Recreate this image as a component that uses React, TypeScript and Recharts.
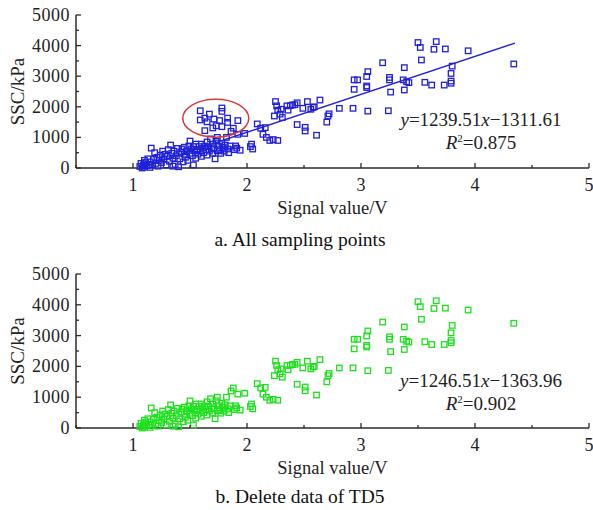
import { ScatterChart, Scatter, XAxis, YAxis, ReferenceLine } from "recharts";

const xTicks = [0.5, 1, 1.5, 2, 2.5, 3, 3.5, 4, 4.5, 5];
const yTicks = [0, 500, 1000, 1500, 2000, 2500, 3000, 3500, 4000, 4500, 5000];

// signal value (V), SSC (kPa)
const lowPoints: [number, number][] = [
  [1.06, 50], [1.07, 150], [1.08, 0], [1.09, 100], [1.1, 30], [1.1, 250], [1.11, 180], [1.12, 80],
  [1.13, 300], [1.14, 120], [1.15, 20], [1.15, 200], [1.16, 650], [1.17, 100], [1.18, 280], [1.19, 500],
  [1.2, 150], [1.21, 350], [1.22, 60], [1.23, 250], [1.24, 420], [1.25, 180], [1.26, 550], [1.27, 300],
  [1.28, 450], [1.29, 100], [1.3, 380], [1.31, 600], [1.32, 220], [1.33, 750], [1.34, 480], [1.35, 320],
  [1.35, 60], [1.36, 550], [1.37, 120], [1.38, 400], [1.39, 640], [1.4, 40], [1.41, 300], [1.42, 520],
  [1.43, 620], [1.44, 200], [1.45, 450], [1.45, 680], [1.46, 350], [1.47, 560], [1.48, 250], [1.49, 720],
  [1.5, 880], [1.5, 480], [1.51, 620], [1.52, 400], [1.53, 100], [1.53, 700], [1.54, 560], [1.55, 320],
  [1.55, 780], [1.56, 600], [1.57, 450], [1.58, 700], [1.59, 550], [1.6, 780], [1.6, 380], [1.61, 650],
  [1.62, 500], [1.63, 720], [1.64, 600], [1.65, 420], [1.65, 850], [1.66, 700], [1.67, 550], [1.68, 950],
  [1.69, 620], [1.7, 480], [1.7, 780], [1.71, 660], [1.72, 300], [1.73, 880], [1.74, 560], [1.74, 1000],
  [1.75, 720], [1.76, 600], [1.77, 480], [1.78, 800], [1.79, 680], [1.8, 550], [1.81, 750], [1.82, 1000],
  [1.83, 620], [1.84, 500], [1.85, 720], [1.86, 1200], [1.88, 1300], [1.89, 600], [1.9, 720], [1.91, 650],
  [1.92, 1100], [1.94, 580], [1.98, 1130],
];

const midPoints: [number, number][] = [
  [2.03, 700], [2.04, 780], [2.05, 620], [2.09, 1440], [2.12, 1300], [2.14, 1100], [2.16, 1320],
  [2.17, 1000], [2.2, 900], [2.23, 930], [2.27, 900], [2.25, 2170], [2.26, 2030], [2.27, 1890],
  [2.24, 1700], [2.29, 1760], [2.3, 1920], [2.31, 1650], [2.35, 2030], [2.36, 1890], [2.38, 2040],
  [2.42, 2070], [2.44, 1420], [2.4, 2060], [2.44, 2130], [2.49, 1950], [2.53, 2170], [2.56, 1920],
  [2.58, 1980], [2.59, 2000], [2.64, 2220], [2.51, 1330], [2.51, 1210], [2.61, 1070], [2.7, 1500],
  [2.72, 1770], [2.71, 1700], [2.81, 1950], [2.93, 1950], [3.06, 1860], [3.24, 1870],
];

const highPoints: [number, number][] = [
  [2.94, 2570], [2.97, 2880], [2.94, 2880], [3.05, 2990], [3.06, 3150], [3.05, 2680], [3.05, 2630],
  [3.19, 3440], [3.25, 2960], [3.25, 2880], [3.26, 2480], [3.37, 2880], [3.38, 2550], [3.38, 3280],
  [3.4, 2820], [3.42, 2790], [3.5, 4100], [3.52, 3940], [3.53, 3530], [3.56, 2800], [3.62, 2710],
  [3.64, 3880], [3.66, 4130], [3.74, 3890], [3.73, 2710], [3.79, 3090], [3.8, 3330], [3.79, 2840],
  [3.79, 2770], [3.94, 3830], [4.34, 3400],
];

// TD5 group (inside the red ellipse)
const td5Points: [number, number][] = [
  [1.59, 1570], [1.59, 1870], [1.63, 1630], [1.65, 1510], [1.67, 1760], [1.71, 1600], [1.76, 1550],
  [1.78, 1960], [1.78, 1850], [1.83, 1630], [1.83, 1490], [1.63, 1220], [1.7, 1310], [1.73, 1380],
  [1.78, 1350], [1.92, 1550],
];

const td5Center = [{ x: 1.726, y: 1627 }];

const fitRange = [1.06, 4.35];

const FONT = "'Liberation Serif', 'Times New Roman', serif";
const AXIS = "#2b2b2b";

const toRows = (pts: [number, number][]) => pts.map(([x, y]) => ({ x, y }));

function XTick({ x, y, payload }: any) {
  const major = Number.isInteger(payload.value);
  return (
    <g>
      <line x1={x} x2={x} y1={y} y2={y - (major ? 5 : 3)} stroke={AXIS} strokeWidth={1.3} />
      {major && (
        <text x={x} y={y + 23} textAnchor="middle" fontSize={18} fontFamily={FONT} fill="#222">
          {payload.value}
        </text>
      )}
    </g>
  );
}

function YTick({ x, y, payload }: any) {
  const major = payload.value % 1000 === 0;
  return (
    <g>
      <line x1={x} x2={x + (major ? 5 : 3)} y1={y} y2={y} stroke={AXIS} strokeWidth={1.3} />
      {major && (
        <text x={x - 6} y={y + 6} textAnchor="end" fontSize={18} fontFamily={FONT} fill="#222" letterSpacing={0.5}>
          {payload.value}
        </text>
      )}
    </g>
  );
}

const square = (color: string) => (props: any) => (
  <rect x={props.cx - 2.75} y={props.cy - 2.75} width={5.5} height={5.5} fill="none" stroke={color} strokeWidth={1.3} />
);

const ellipse = (props: any) => (
  <ellipse cx={props.cx} cy={props.cy} rx={33} ry={19} fill="none" stroke="#d63a3a" strokeWidth={1.5} />
);

interface PanelProps {
  points: { x: number; y: number }[];
  color: string;
  slope: number;
  intercept: number;
  marginTop: number;
  circle?: boolean;
}

function Panel({ points, color, slope, intercept, marginTop, circle }: PanelProps) {
  const segment = fitRange.map((x) => ({ x, y: slope * x + intercept }));
  return (
    <ScatterChart width={593} height={230} margin={{ top: marginTop, right: 4, bottom: 7, left: 0 }}>
      <XAxis
        type="number"
        dataKey="x"
        domain={[0.5, 5]}
        ticks={xTicks}
        interval={0}
        height={55}
        tickSize={0}
        tickMargin={0}
        tickLine={false}
        tick={<XTick />}
        axisLine={{ stroke: AXIS, strokeWidth: 1.5 }}
        label={{
          value: "Signal value/V",
          position: "insideBottom",
          offset: 9,
          style: { fontFamily: FONT, fontSize: 18.5, fill: "#222" },
        }}
      />
      <YAxis
        type="number"
        dataKey="y"
        domain={[0, 5000]}
        ticks={yTicks}
        interval={0}
        width={76}
        tickSize={0}
        tickMargin={0}
        tickLine={false}
        tick={<YTick />}
        axisLine={{ stroke: AXIS, strokeWidth: 1.5 }}
        label={{
          value: "SSC/kPa",
          angle: -90,
          position: "insideLeft",
          offset: 17,
          textAnchor: "middle",
          style: { fontFamily: FONT, fontSize: 19, fill: "#222", textAnchor: "middle" },
        }}
      />
      <Scatter data={points} shape={square(color)} isAnimationActive={false} />
      <ReferenceLine segment={segment} stroke={color} strokeWidth={1.5} />
      {circle && <Scatter data={td5Center} shape={ellipse} isAnimationActive={false} />}
    </ScatterChart>
  );
}

const eqStyle: React.CSSProperties = {
  position: "absolute",
  left: 381,
  width: 200,
  textAlign: "center",
  fontFamily: FONT,
  fontSize: 19,
  lineHeight: "23px",
  color: "#222",
};

const captionStyle: React.CSSProperties = {
  position: "absolute",
  left: 0,
  width: 600,
  textAlign: "center",
  fontFamily: FONT,
  fontSize: 19.5,
  lineHeight: "24px",
  color: "#111",
};

export default function App() {
  const allPoints = toRows([...lowPoints, ...midPoints, ...highPoints, ...td5Points]);
  const keptPoints = toRows([...lowPoints, ...midPoints, ...highPoints]);
  return (
    <div style={{ position: "relative", width: 593, height: 510, background: "#fff" }}>
      <style>{"body{margin:0}"}</style>
      <div style={{ position: "absolute", left: 0, top: 0 }}>
        <Panel points={allPoints} color="#2020d8" slope={1239.51} intercept={-1311.61} marginTop={15} circle />
      </div>
      <div style={{ position: "absolute", left: 0, top: 260 }}>
        <Panel points={keptPoints} color="#1fe01f" slope={1246.51} intercept={-1363.96} marginTop={14} />
      </div>

      <div style={{ ...eqStyle, top: 108 }}>
        <i>y</i>=1239.51<i>x</i>−1311.61
        <br />
        <i>R</i>
        <sup style={{ fontSize: 11, verticalAlign: "7px", lineHeight: 0 }}>2</sup>=0.875
      </div>
      <div style={{ ...eqStyle, top: 369 }}>
        <i>y</i>=1246.51<i>x</i>−1363.96
        <br />
        <i>R</i>
        <sup style={{ fontSize: 11, verticalAlign: "7px", lineHeight: 0 }}>2</sup>=0.902
      </div>

      <div style={{ ...captionStyle, top: 228 }}>a. All sampling points</div>
      <div style={{ ...captionStyle, top: 485 }}>b. Delete data of TD5</div>
    </div>
  );
}
